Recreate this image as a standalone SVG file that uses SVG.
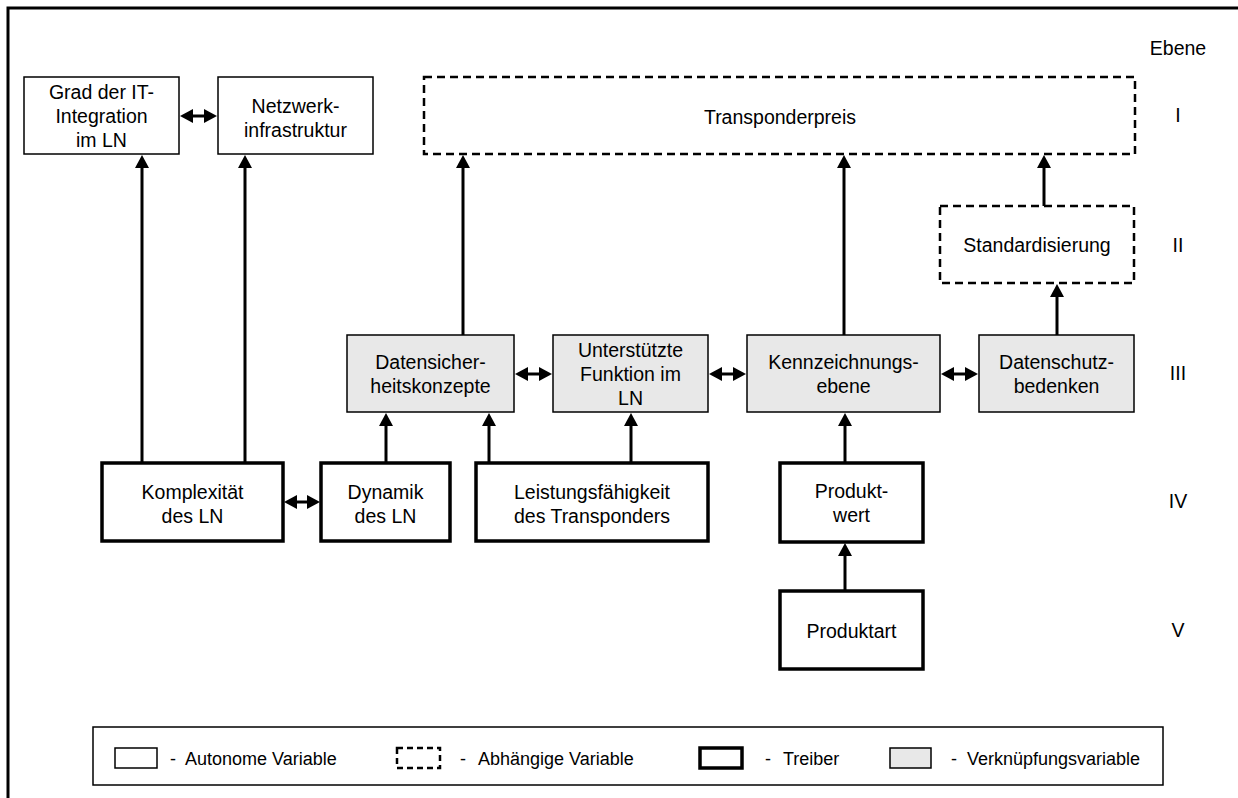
<svg xmlns="http://www.w3.org/2000/svg" width="1238" height="798" viewBox="0 0 1238 798">
  <defs>
    <style>
      text { font-family: "Liberation Sans", Arial, sans-serif; fill: #000; }
      .lbl { font-size: 19.5px; text-anchor: middle; }
      .lvl { font-size: 19.5px; text-anchor: middle; }
      .leg { font-size: 18px; }
      .auto { fill: #fff; stroke: #000; stroke-width: 1.5; }
      .dep { fill: #fff; stroke: #000; stroke-width: 2.5; stroke-dasharray: 8 5; }
      .drv { fill: #fff; stroke: #000; stroke-width: 3.5; }
      .link { fill: #e8e8e8; stroke: #000; stroke-width: 1.5; }
      .frame { fill: none; stroke: #000; stroke-width: 3; }
      .edge { fill: none; stroke: #000; stroke-width: 3; marker-end: url(#head); }
      .both { fill: none; stroke: #000; stroke-width: 3; marker-start: url(#head); marker-end: url(#head); }
    </style>
    <marker id="head" markerUnits="userSpaceOnUse" markerWidth="14" markerHeight="14" refX="1" refY="7" orient="auto-start-reverse">
      <path d="M0,0 L13,7 L0,14 Z" fill="#000"/>
    </marker>
  </defs>

  <rect width="1238" height="798" fill="#fff"/>

  <!-- outer frame (top and left edges) -->
  <path class="frame" d="M8,798 V8 H1238"/>

  <!-- level column -->
  <g id="levels">
    <text class="lvl" x="1178" y="55">Ebene</text>
    <text class="lvl" x="1178" y="122">I</text>
    <text class="lvl" x="1178" y="252">II</text>
    <text class="lvl" x="1178" y="380">III</text>
    <text class="lvl" x="1178" y="508">IV</text>
    <text class="lvl" x="1178" y="637">V</text>
  </g>

  <!-- connectors -->
  <g id="connectors">
    <path class="edge" d="M142,463 V167"/>
    <path class="edge" d="M245,463 V167"/>
    <path class="edge" d="M463,335 V167"/>
    <path class="edge" d="M844,335 V167"/>
    <path class="edge" d="M1044,206 V167"/>
    <path class="edge" d="M1057,335 V296"/>
    <path class="edge" d="M386,463 V425"/>
    <path class="edge" d="M489,463 V425"/>
    <path class="edge" d="M631,463 V425"/>
    <path class="edge" d="M845,463 V425"/>
    <path class="edge" d="M845,591 V555"/>
    <path class="both" d="M192,116 H205"/>
    <path class="both" d="M527,374 H540"/>
    <path class="both" d="M721,374 H734"/>
    <path class="both" d="M953,374 H966"/>
    <path class="both" d="M296,502 H308"/>
  </g>

  <!-- level I -->
  <g id="grad-it-integration">
    <rect class="auto" x="24" y="77" width="155" height="77"/>
    <text class="lbl" x="101.5" y="99">Grad der IT-</text>
    <text class="lbl" x="101.5" y="123">Integration</text>
    <text class="lbl" x="101.5" y="147">im LN</text>
  </g>
  <g id="netzwerkinfrastruktur">
    <rect class="auto" x="218" y="77" width="155" height="77"/>
    <text class="lbl" x="295.5" y="113">Netzwerk-</text>
    <text class="lbl" x="295.5" y="137">infrastruktur</text>
  </g>
  <g id="transponderpreis">
    <rect class="dep" x="424" y="77" width="711" height="77"/>
    <text class="lbl" x="780" y="124">Transponderpreis</text>
  </g>

  <!-- level II -->
  <g id="standardisierung">
    <rect class="dep" x="940" y="206" width="194" height="77"/>
    <text class="lbl" x="1037" y="252">Standardisierung</text>
  </g>

  <!-- level III -->
  <g id="datensicherheitskonzepte">
    <rect class="link" x="347" y="335" width="167" height="77"/>
    <text class="lbl" x="430.5" y="369">Datensicher-</text>
    <text class="lbl" x="430.5" y="393">heitskonzepte</text>
  </g>
  <g id="unterstuetzte-funktion">
    <rect class="link" x="553" y="335" width="155" height="77"/>
    <text class="lbl" x="630.5" y="357">Unterstützte</text>
    <text class="lbl" x="630.5" y="381">Funktion im</text>
    <text class="lbl" x="630.5" y="405">LN</text>
  </g>
  <g id="kennzeichnungsebene">
    <rect class="link" x="747" y="335" width="193" height="77"/>
    <text class="lbl" x="843.5" y="369">Kennzeichnungs-</text>
    <text class="lbl" x="843.5" y="393">ebene</text>
  </g>
  <g id="datenschutzbedenken">
    <rect class="link" x="979" y="335" width="155" height="77"/>
    <text class="lbl" x="1056.5" y="369">Datenschutz-</text>
    <text class="lbl" x="1056.5" y="393">bedenken</text>
  </g>

  <!-- level IV -->
  <g id="komplexitaet">
    <rect class="drv" x="102" y="463" width="181" height="78"/>
    <text class="lbl" x="192.5" y="499">Komplexität</text>
    <text class="lbl" x="192.5" y="523">des LN</text>
  </g>
  <g id="dynamik">
    <rect class="drv" x="321" y="463" width="129" height="78"/>
    <text class="lbl" x="385.5" y="499">Dynamik</text>
    <text class="lbl" x="385.5" y="523">des LN</text>
  </g>
  <g id="leistungsfaehigkeit">
    <rect class="drv" x="476" y="463" width="232" height="78"/>
    <text class="lbl" x="592" y="499">Leistungsfähigkeit</text>
    <text class="lbl" x="592" y="523">des Transponders</text>
  </g>
  <g id="produktwert">
    <rect class="drv" x="780" y="463" width="143" height="79"/>
    <text class="lbl" x="851.5" y="498">Produkt-</text>
    <text class="lbl" x="851.5" y="522">wert</text>
  </g>

  <!-- level V -->
  <g id="produktart">
    <rect class="drv" x="780" y="591" width="143" height="78"/>
    <text class="lbl" x="851.5" y="638">Produktart</text>
  </g>

  <!-- legend -->
  <g id="legend">
    <rect x="93" y="727" width="1070" height="58" fill="#fff" stroke="#000" stroke-width="1.5"/>
    <rect class="auto" x="115" y="748" width="42" height="20" stroke-width="1.2"/>
    <text class="leg" x="170" y="765">-</text>
    <text class="leg" x="185" y="765">Autonome Variable</text>
    <rect class="dep" x="397" y="748" width="43" height="20" stroke-width="2" style="stroke-dasharray:6 4"/>
    <text class="leg" x="460" y="765">-</text>
    <text class="leg" x="478" y="765">Abhängige Variable</text>
    <rect class="drv" x="700" y="748" width="42" height="20" stroke-width="3"/>
    <text class="leg" x="765" y="765">-</text>
    <text class="leg" x="783" y="765">Treiber</text>
    <rect class="link" x="890" y="748" width="41" height="20" stroke-width="1.2"/>
    <text class="leg" x="951" y="765">-</text>
    <text class="leg" x="967" y="765">Verknüpfungsvariable</text>
  </g>
</svg>
